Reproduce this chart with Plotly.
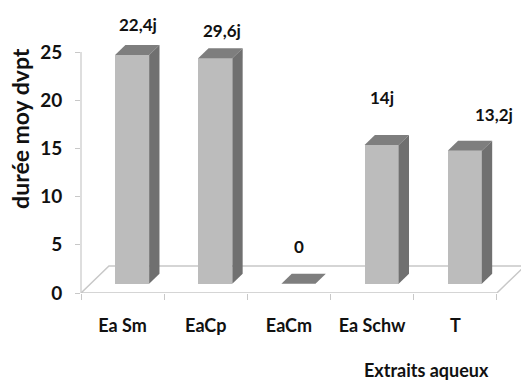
import plotly.graph_objects as go

# Mean development time per aqueous extract
categories = ["Ea Sm", "EaCp", "EaCm", "Ea Schw", "T"]
durations = [23.75, 23.4, 0.0, 14.4, 13.8]
value_labels = ["22,4j", "29,6j", "0", "14j", "13,2j"]
y_ticks = [0, 5, 10, 15, 20, 25]

# ---- styling / geometry ----
FONT = "Lato"
TXT = "#111111"
AXIS_GREY = "#c8c8c8"
FRONT = "#bcbcbc"
SIDE = "#707070"
TOP = "#7e7e7e"

X_MAX = 5.29          # categories span 0..5, extra room for the floor depth
Y_MAX = 26.25         # room above 25 for the bar tops
FLOOR_DX, FLOOR_DY = 0.336, 2.80   # oblique depth of the floor (data units)
FRONT_FRAC, DEPTH_FRAC = 0.34, 0.37
BAR_W = 0.41

# label nudges (pixels) relative to the top of each bar
label_dx = [6, 7, 1, 0, 29]
label_dy = [20, 18, 27, 38, 26]

off_x, off_y = FLOOR_DX * FRONT_FRAC, FLOOR_DY * FRONT_FRAC
dep_x, dep_y = FLOOR_DX * DEPTH_FRAC, FLOOR_DY * DEPTH_FRAC

centers = [i + 0.5 + off_x for i in range(len(categories))]

fig = go.Figure()

# front faces of the columns
fig.add_trace(go.Bar(
    x=centers, y=durations, base=[off_y] * len(durations),
    width=BAR_W, marker=dict(color=FRONT, line=dict(width=0)),
    hoverinfo="skip", showlegend=False,
))

shapes = []

# floor of the 3D plot area
shapes.append(dict(
    type="path", xref="x", yref="y", layer="below",
    path=f"M 0 0 L 5 0 L {5 + FLOOR_DX} {FLOOR_DY} L {FLOOR_DX} {FLOOR_DY} Z",
    line=dict(color=AXIS_GREY, width=1.5), fillcolor="rgba(0,0,0,0)",
))

# top and side faces of each column
for cx, v in zip(centers, durations):
    xl, xr = cx - BAR_W / 2, cx + BAR_W / 2
    y0, y1 = off_y, off_y + v
    shapes.append(dict(
        type="path", xref="x", yref="y", layer="above",
        path=(f"M {xl} {y1} L {xr} {y1} L {xr + dep_x} {y1 + dep_y} "
              f"L {xl + dep_x} {y1 + dep_y} Z"),
        line=dict(width=0), fillcolor=TOP,
    ))
    if v > 0:
        shapes.append(dict(
            type="path", xref="x", yref="y", layer="above",
            path=(f"M {xr} {y0} L {xr + dep_x} {y0 + dep_y} "
                  f"L {xr + dep_x} {y1 + dep_y} L {xr} {y1} Z"),
            line=dict(width=0), fillcolor=SIDE,
        ))

# vertical axis line, from 0 up to 25
shapes.append(dict(
    type="line", xref="paper", yref="paper",
    x0=0, x1=0, y0=0, y1=25 / Y_MAX,
    line=dict(color=AXIS_GREY, width=1.2),
))

annotations = []
for cx, v, txt, dx, dy in zip(centers, durations, value_labels, label_dx, label_dy):
    annotations.append(dict(
        x=cx, y=off_y + v + dep_y, xref="x", yref="y", text=txt,
        showarrow=False, xanchor="center", yanchor="middle",
        xshift=dx, yshift=dy,
        font=dict(family=FONT, size=17, color=TXT, weight="bold"),
    ))

annotations.append(dict(
    x=-0.139, y=0.652, xref="paper", yref="paper", text="durée moy dvpt",
    textangle=-90, showarrow=False, xanchor="center", yanchor="middle",
    font=dict(family=FONT, size=23, color=TXT, weight="bold"),
))
annotations.append(dict(
    x=0.786, y=-0.304, xref="paper", yref="paper", text="Extraits aqueux",
    showarrow=False, xanchor="center", yanchor="middle",
    font=dict(family=FONT, size=18, color=TXT, weight="bold"),
))

fig.update_layout(
    width=521, height=380,
    margin=dict(l=81, r=0, t=40, b=87),
    paper_bgcolor="white", plot_bgcolor="white",
    shapes=shapes, annotations=annotations,
    bargap=0,
    xaxis=dict(
        range=[0, X_MAX], showgrid=False, zeroline=False, showline=False,
        tickmode="array", tickvals=[i + 0.5 for i in range(len(categories))],
        ticktext=categories, ticks="", ticklabelstandoff=20,
        tickfont=dict(family=FONT, size=18, color=TXT, weight="bold"),
        minor=dict(tickmode="array", tickvals=list(range(6)), ticks="outside",
                   ticklen=6, tickwidth=1.2, tickcolor=AXIS_GREY, showgrid=False),
    ),
    yaxis=dict(
        range=[0, Y_MAX], showgrid=False, zeroline=False, showline=False,
        tickmode="array", tickvals=y_ticks, ticks="outside", ticklen=5,
        tickwidth=1.2, tickcolor=AXIS_GREY, ticklabelstandoff=9,
        tickfont=dict(family=FONT, size=19, color=TXT, weight="bold"),
    ),
)

fig.write_html("out.html")
